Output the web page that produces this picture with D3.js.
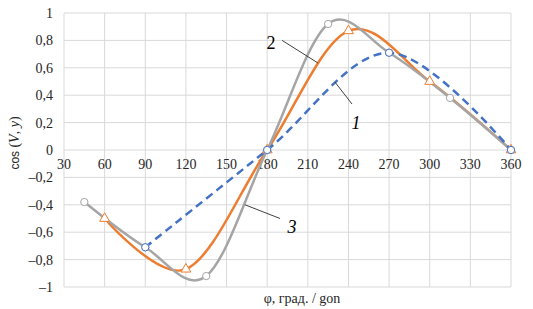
<!DOCTYPE html>
<html>
<head>
<meta charset="utf-8">
<script src="https://cdn.jsdelivr.net/npm/d3@7"></script>
<style>
  body { margin: 0; background: #fff; }
  svg { display: block; }
</style>
</head>
<body>
<div id="chart"></div>
<script>
// данные графика
var xTicks = [30, 60, 90, 120, 150, 180, 210, 240, 270, 300, 330, 360];
var yTicks = [-1, -0.8, -0.6, -0.4, -0.2, 0, 0.2, 0.4, 0.6, 0.8, 1];

var s1_x = [90, 180, 270, 360];
var s1_y = [-0.71, 0, 0.71, 0];

var s2_x = [60, 120, 180, 240, 300, 360];
var s2_y = [-0.5, -0.87, 0, 0.87, 0.5, 0];

var s3_x = [45, 90, 135, 180, 225, 270, 315, 360];
var s3_y = [-0.38, -0.71, -0.92, 0, 0.92, 0.71, 0.38, 0];

// подписи кривых: текст, позиция, линия-выноска (в единицах данных)
var labels = [
    { text: "1", italic: true, x: 245.6, y: 0.2, lx1: 230, ly1: 0.496, lx2: 242.6, ly2: 0.336 },
    { text: "2", italic: false, x: 182.8, y: 0.78, lx1: 191, ly1: 0.8, lx2: 217.5, ly2: 0.635 },
    { text: "3", italic: true, x: 198.3, y: -0.56, lx1: 163.6, ly1: -0.4, lx2: 189.5, ly2: -0.5 }
];

var width = 533, height = 309;
var margin = { top: 13, right: 22, bottom: 22, left: 64 };

var svg = d3.select("#chart").append("svg")
    .attr("width", width)
    .attr("height", height);

var x = d3.scaleLinear().domain([30, 360]).range([margin.left, width - margin.right]);
var y = d3.scaleLinear().domain([-1, 1]).range([height - margin.bottom, margin.top]);

var serif = "Times New Roman, serif";

// сетка
svg.append("g").selectAll("line.h")
    .data(yTicks).enter().append("line")
    .attr("x1", x(30)).attr("x2", x(360))
    .attr("y1", function (d) { return y(d); })
    .attr("y2", function (d) { return y(d); })
    .attr("stroke", "#d9d9d9").attr("stroke-width", 1);

svg.append("g").selectAll("line.v")
    .data(xTicks).enter().append("line")
    .attr("x1", function (d) { return x(d); })
    .attr("x2", function (d) { return x(d); })
    .attr("y1", y(1)).attr("y2", y(-1))
    .attr("stroke", "#d9d9d9").attr("stroke-width", 1);

// подписи оси Y
svg.append("g").selectAll("text")
    .data(yTicks).enter().append("text")
    .attr("x", margin.left - 11)
    .attr("y", function (d) { return y(d); })
    .attr("dy", "0.35em")
    .attr("text-anchor", "end")
    .attr("font-family", serif)
    .attr("font-size", "14px")
    .attr("fill", "#262626")
    .text(function (d) {
        var s = d3.format(".1f")(Math.abs(d)).replace(".", ",");
        if (d === 0) return "0";
        if (Math.abs(d) === 1) s = "1";
        return (d < 0 ? "–" : "") + s;
    });

// подписи оси X (на линии нуля)
svg.append("g").selectAll("text")
    .data(xTicks).enter().append("text")
    .attr("x", function (d) { return x(d); })
    .attr("y", y(0) + 19)
    .attr("text-anchor", "middle")
    .attr("font-family", serif)
    .attr("font-size", "14px")
    .attr("fill", "#262626")
    .text(function (d) { return d; });

// заголовки осей
var yTitle = svg.append("text")
    .attr("transform", "translate(19," + 143 + ") rotate(-90)")
    .attr("text-anchor", "middle")
    .attr("fill", "#262626");
yTitle.append("tspan").attr("font-family", "Liberation Sans, sans-serif").attr("font-size", "12px").text("cos ");
yTitle.append("tspan").attr("font-family", serif).attr("font-size", "14px").text("(");
yTitle.append("tspan").attr("font-family", serif).attr("font-size", "14px").attr("font-style", "italic").text("V");
yTitle.append("tspan").attr("font-family", serif).attr("font-size", "14px").text(", ");
yTitle.append("tspan").attr("font-family", serif).attr("font-size", "14px").attr("font-style", "italic").text("y");
yTitle.append("tspan").attr("font-family", serif).attr("font-size", "14px").text(")");

svg.append("text")
    .attr("x", 302)
    .attr("y", 303)
    .attr("text-anchor", "middle")
    .attr("font-family", serif)
    .attr("font-size", "14px")
    .attr("fill", "#262626")
    .text("φ, град. / gon");

// кривые
var line = d3.line()
    .x(function (d) { return x(d[0]); })
    .y(function (d) { return y(d[1]); })
    .curve(d3.curveCardinal.tension(0));

function pts(xs, ys) { return xs.map(function (v, i) { return [v, ys[i]]; }); }

var series = [
    { data: pts(s2_x, s2_y), color: "#ed7d31", dash: null, marker: "tri" },
    { data: pts(s3_x, s3_y), color: "#a5a5a5", dash: null, marker: "circle" },
    { data: pts(s1_x, s1_y), color: "#4472c4", dash: "8,5", marker: "circle" }
];

series.forEach(function (s) {
    svg.append("path")
        .attr("d", line(s.data))
        .attr("fill", "none")
        .attr("stroke", s.color)
        .attr("stroke-width", 2.5)
        .attr("stroke-dasharray", s.dash);
});

series.forEach(function (s) {
    var sym = d3.symbol().type(s.marker === "tri" ? d3.symbolTriangle : d3.symbolCircle).size(42);
    svg.append("g").selectAll("path")
        .data(s.data).enter().append("path")
        .attr("d", sym)
        .attr("transform", function (d) { return "translate(" + x(d[0]) + "," + y(d[1]) + ")"; })
        .attr("fill", "#fff")
        .attr("stroke", s.color)
        .attr("stroke-width", 1);
});

// подписи кривых
labels.forEach(function (l) {
    svg.append("line")
        .attr("x1", x(l.lx1)).attr("y1", y(l.ly1))
        .attr("x2", x(l.lx2)).attr("y2", y(l.ly2))
        .attr("stroke", "#404040").attr("stroke-width", 1);
    svg.append("text")
        .attr("x", x(l.x))
        .attr("y", y(l.y))
        .attr("dy", "0.35em")
        .attr("text-anchor", "middle")
        .attr("font-family", serif)
        .attr("font-size", "18px")
        .attr("font-style", l.italic ? "italic" : "normal")
        .attr("fill", "#000")
        .text(l.text);
});
</script>
</body>
</html>
